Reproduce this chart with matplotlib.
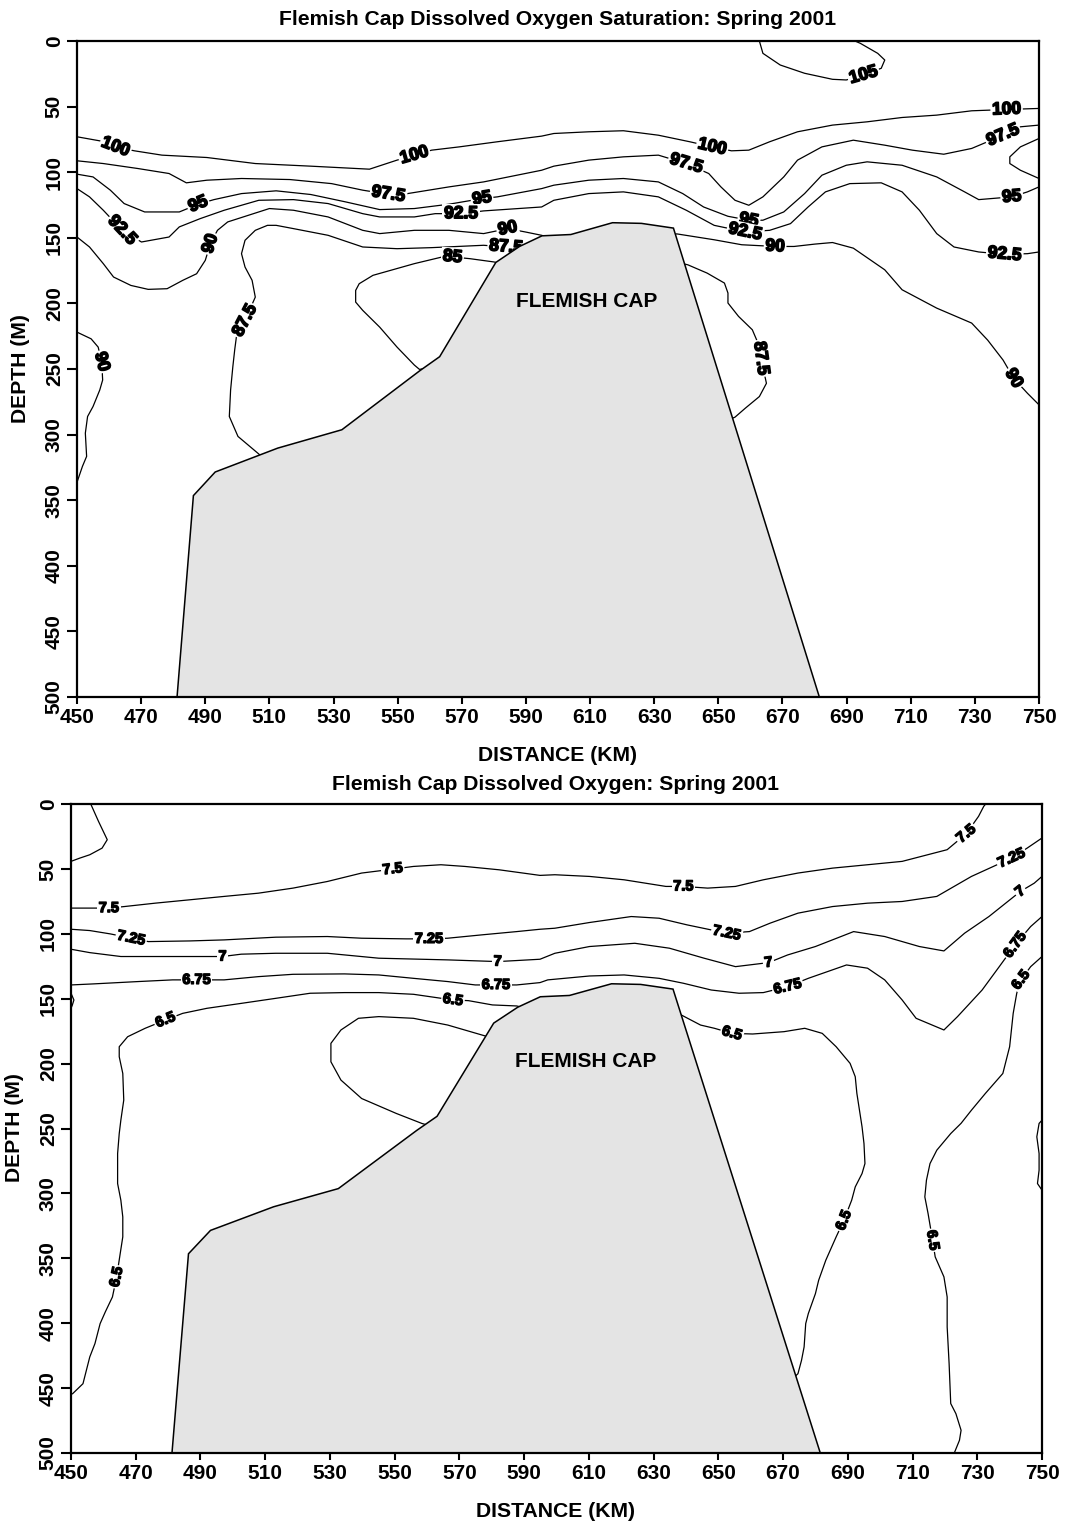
import numpy as np
import matplotlib
matplotlib.use('Agg')
import matplotlib.pyplot as plt
import matplotlib.patheffects as pe

plt.rcParams['font.family'] = ['Liberation Sans', 'DejaVu Sans']
plt.rcParams['font.weight'] = 'bold'

# --- Bathymetry (Flemish Cap), distance km / depth m ---
bathy_km = [481.2, 486.3, 493.1, 512.6, 532.6, 556.8, 563.1, 580.6, 588.0, 595.0, 604.0, 617.0, 626.0, 636.0, 681.5]
bathy_m = [500, 346.5, 328.5, 310.3, 296.3, 251.5, 240.6, 168.8, 156.6, 148.5, 147.5, 138.5, 139.0, 142.6, 500]

# --- Oxygen saturation isolines (%) ---
sat_105_km = [662.8, 663.9, 669.3, 676.9, 685.6, 689.9, 695.3, 700.8, 701.9, 699.7, 694.3, 692.6]
sat_105_m = [0, 9.4, 18.3, 24.6, 29.2, 29.7, 25.9, 20.8, 14.5, 9.4, 1.8, 0]

sat_100_km = [450, 457.1, 462.0, 467.9, 476.5, 490.5, 505.6, 522.9, 541.2, 549.8, 555.2, 560.6, 569.2, 581.1,
              594.9, 598.7, 609.6, 620.4, 631.3, 641.1, 648.1, 654.1, 659.5, 666.0, 674.7, 685.6, 696.4, 707.3,
              718.1, 729.0, 739.9, 750]
sat_100_m = [73.0, 76.1, 80.7, 83.7, 87.0, 88.8, 93.4, 95.4, 97.7, 90.8, 87.0, 83.2, 80.7, 76.8,
             72.5, 70.5, 69.2, 68.4, 71.8, 76.8, 80.7, 83.7, 83.2, 76.8, 69.2, 64.1, 61.6, 58.3,
             56.5, 53.2, 52.2, 51.4]

sat_975_km = [450, 458.2, 469.0, 478.7, 484.1, 490.5, 501.3, 516.4, 529.4, 539.1, 547.1, 553.1, 566.0, 576.8,
              594.9, 598.7, 609.6, 620.4, 631.3, 640.0, 647.0, 650.8, 655.2, 659.5, 663.9, 670.4, 674.7, 682.3,
              692.1, 701.9, 710.5, 720.3, 729.0, 738.8, 744.2, 750]
sat_975_m = [91.3, 93.4, 97.2, 101.0, 108.1, 106.1, 104.8, 105.6, 108.7, 113.7, 116.8, 116.3, 111.2, 107.4,
             98.5, 95.4, 90.8, 88.3, 87.0, 93.4, 101.0, 111.2, 121.4, 125.2, 118.8, 103.6, 90.8, 80.7,
             75.6, 79.4, 83.2, 86.3, 81.9, 71.8, 65.4, 64.1]

sat_975b_km = [750, 744.2, 740.9, 740.9, 744.2, 750]
sat_975b_m = [74.3, 80.7, 88.3, 93.4, 98.5, 104.8]

sat_95_km = [450, 455.0, 460.4, 464.7, 471.1, 481.9, 487.8, 492.7, 501.3, 512.1, 522.9, 533.7, 544.4, 555.2,
             566.0, 576.3, 581.1, 594.9, 598.7, 609.6, 620.4, 631.3, 638.9, 645.4, 653.0, 659.5, 663.9, 670.4,
             676.9, 682.3, 689.9, 696.4, 707.3, 718.1, 726.8, 731.2, 741.5, 746.4, 750]
sat_95_m = [101.5, 103.6, 113.7, 123.9, 130.3, 130.3, 124.4, 120.9, 116.3, 114.2, 117.0, 122.6, 128.5, 127.7,
            124.4, 120.1, 118.8, 112.5, 109.9, 106.1, 104.8, 107.4, 116.3, 126.5, 133.6, 136.6, 136.6, 130.3,
            116.3, 102.3, 94.7, 92.1, 94.7, 103.6, 115.0, 120.9, 118.8, 115.0, 111.2]

sat_925_km = [450, 453.9, 458.2, 464.1, 470.1, 478.7, 481.9, 488.4, 495.9, 506.7, 517.5, 528.3, 539.1, 544.4,
              555.2, 561.7, 569.8, 576.8, 594.9, 598.7, 609.6, 620.4, 631.3, 640.0, 648.7, 658.4, 666.0, 672.5,
              678.0, 683.4, 691.0, 700.8, 707.3, 712.7, 718.1, 723.5, 731.2, 739.3, 746.4, 750]
sat_925_m = [112.5, 118.8, 129.0, 144.3, 153.2, 149.4, 141.7, 135.4, 129.0, 121.4, 120.9, 123.9, 131.6, 134.1,
             134.1, 131.6, 131.6, 129.5, 126.5, 121.4, 116.3, 115.0, 118.8, 129.0, 140.5, 145.5, 144.3, 139.2,
             126.5, 115.0, 108.7, 108.1, 115.0, 129.0, 146.8, 157.0, 160.8, 162.6, 162.1, 160.8]

sat_90_km = [450, 453.9, 458.2, 461.4, 466.8, 472.2, 478.1, 483.0, 487.3, 490.0, 491.6, 493.8, 497.0, 503.5,
             510.0, 517.5, 528.3, 539.1, 544.4, 555.2, 566.0, 576.8, 584.3, 589.7, 594.9, 600, 615, 630, 637,
             648.7, 657.3, 667.7, 673.6, 680.1, 685.6, 692.1, 701.9, 707.3, 718.1, 729.0, 734.0, 738.8, 742.1,
             746.4, 750]
sat_90_m = [149.4, 157.0, 169.7, 179.9, 186.3, 189.3, 188.8, 182.4, 177.4, 167.2, 154.5, 144.3, 137.9, 132.8,
            127.7, 129.0, 134.1, 144.3, 146.8, 144.3, 144.3, 146.8, 143.0, 145.5, 148.1, 152, 152, 152, 147,
            151.5, 155.3, 156.6, 156.6, 154.8, 153.6, 157.9, 174.4, 189.6, 203.6, 215.0, 228.0, 243.2, 257.1,
            268.5, 277.3]

sat_90b_km = [450, 454.4, 456.6, 457.7, 458.0, 457.1, 455.0, 453.3, 452.6, 453.0, 451.7, 450.1]
sat_90b_m = [221.9, 227.0, 233.3, 244.4, 258.4, 266.0, 278.6, 286.2, 298.9, 316.6, 324.2, 335.6]

sat_875_km = [508, 506.7, 500.2, 497.5, 497.9, 498.6, 499.2, 499.7, 502.4, 505.6, 504.6, 502.4, 501.3, 502.4,
              505.6, 509.4, 512.1, 517.5, 528.3, 539.1, 549.8, 560.6, 576.8, 583.8, 587.6, 592]
sat_875_m = [318, 314.8, 301.4, 286.2, 266.0, 248.2, 235, 225.7, 213.0, 195.2, 182.4, 172.3, 162.1, 151.9,
             144.3, 140.5, 140.5, 143.0, 148.1, 157.0, 158.3, 157.5, 155.7, 157.0, 160.8, 163]

sat_875b_km = [636, 640.5, 646.5, 651.9, 653.0, 653.0, 656.3, 660.6, 662.8, 663.3, 665.0, 662.8, 658.4, 655.2, 652]
sat_875b_m = [168, 170.6, 176.9, 184.5, 192.1, 199.7, 209.9, 220.1, 232.7, 241.9, 260.9, 271.0, 279.9, 286.7, 290]

sat_85_km = [583, 580.0, 572.5, 567.1, 563.9, 555.2, 542.3, 538.0, 536.9, 536.9, 539.1, 544.4, 549.8, 555.2,
             556.8, 560]
sat_85_m = [170, 168.4, 165.9, 164.6, 164.6, 169.7, 178.6, 185.0, 190.1, 199.0, 205.3, 218.1, 233.3, 247.0,
            250.3, 249]

sat_labels = [("100", 462.0, 80.7), ("100", 555.2, 87.0), ("100", 648.1, 80.7), ("100", 739.9, 52.2),
              ("97.5", 547.1, 116.8), ("97.5", 640.0, 93.4), ("97.5", 738.8, 71.8),
              ("95", 487.8, 124.4), ("95", 576.3, 120.1), ("95", 659.5, 136.6), ("95", 741.5, 118.8),
              ("92.5", 464.1, 144.3), ("92.5", 569.8, 131.6), ("92.5", 658.4, 145.5), ("92.5", 739.3, 162.6),
              ("90", 491.6, 154.5), ("90", 584.3, 143.0), ("90", 667.7, 156.6), ("90", 742.1, 257.1),
              ("90", 457.7, 244.4), ("87.5", 502.4, 213.0), ("87.5", 583.8, 157.0), ("87.5", 663.3, 241.9),
              ("85", 567.1, 164.6), ("105", 695.3, 25.9)]

# --- Dissolved oxygen isolines (ml/l) ---
oxy_75a_km = [456.1, 458.5, 461.2, 459.6, 455.8, 452.7, 450]
oxy_75a_m = [0, 13.4, 27.5, 34.0, 39.1, 41.7, 44.2]

oxy_75_km = [450, 461.7, 466.5, 476.0, 486.7, 497.3, 507.9, 518.6, 529.2, 539.8, 549.4, 555.8, 564.3, 571.7,
             582.3, 594.9, 599.5, 610.2, 620.9, 633.8, 639.2, 646.7, 655.3, 663.9, 674.6, 685.3, 696.1, 706.8,
             720.7, 726.6, 730.4, 732.0, 732.6]
oxy_75_m = [80.2, 80.2, 79.0, 76.4, 73.8, 71.2, 68.7, 64.8, 59.7, 53.2, 50.2, 48.1, 46.8, 48.1,
            50.7, 55.0, 54.5, 55.8, 58.4, 63.5, 63.5, 64.8, 63.5, 58.4, 53.2, 49.4, 46.8, 44.2,
            35.2, 22.9, 9.5, 1.8, 0]

oxy_725_km = [450, 455.8, 462.2, 468.6, 473.9, 486.7, 497.3, 513.3, 529.2, 539.8, 553.6, 560.6, 566.4, 577.0,
              587.7, 594.9, 599.5, 610.2, 623.1, 631.7, 640.3, 652.6, 659.6, 666.0, 674.6, 685.3, 696.1, 706.8,
              717.5, 728.2, 740.6, 745.4, 750]
oxy_725_m = [96.5, 97.5, 100.1, 103.4, 106.0, 105.5, 104.7, 102.6, 102.1, 103.4, 103.9, 103.9, 103.4, 100.8,
             98.3, 96.5, 95.7, 91.3, 86.7, 88.0, 93.1, 99.5, 98.3, 91.8, 84.1, 79.0, 76.4, 75.1,
             71.2, 55.8, 41.7, 34.0, 26.2]

oxy_7_km = [450, 455.8, 465.4, 492.0, 496.8, 502.6, 513.3, 529.2, 545.1, 566.4, 581.8, 587.7, 594.9, 599.5,
            610.2, 624.2, 634.9, 645.6, 655.3, 665.5, 671.4, 680.0, 691.8, 701.4, 712.1, 719.7, 726.1, 733.6,
            743.3, 747.6, 750]
oxy_7_m = [111.9, 114.5, 117.5, 117.5, 117.5, 115.7, 115.0, 115.0, 118.8, 120.1, 121.4, 120.6, 119.6, 115.0,
           109.8, 107.3, 111.1, 118.8, 125.3, 122.2, 116.3, 109.8, 98.3, 102.1, 109.8, 113.2, 99.5, 86.7,
           67.4, 61.0, 55.8]

oxy_675_km = [450, 456.9, 470.7, 481.4, 488.8, 497.3, 507.9, 518.6, 534.5, 545.1, 555.8, 566.4, 574.9, 581.3,
              587.7, 594.9, 597.3, 610.2, 620.9, 631.7, 639.2, 647.8, 656.4, 663.9, 671.4, 677.8, 689.6, 696.1,
              701.4, 706.8, 711.1, 719.7, 723.9, 731.5, 736.8, 741.7, 746.5, 750]
oxy_675_m = [139.4, 138.6, 136.8, 135.5, 135.5, 135.5, 133.0, 131.2, 130.9, 131.7, 134.3, 136.8, 139.4, 139.4,
             139.4, 137.6, 135.5, 132.5, 131.7, 134.3, 138.1, 143.3, 145.8, 145.3, 140.7, 134.3, 124.0, 126.5,
             135.5, 151.0, 165.1, 174.1, 163.8, 143.3, 125.3, 108.5, 94.4, 86.7]

oxy_65_km = [450, 450.5, 453.7, 455.8, 457.4, 459.0, 460.6, 462.8, 464.1, 465.2, 466.0, 466.0, 465.4, 464.4,
             464.4, 464.9, 465.4, 466.3, 466.0, 464.9, 464.9, 467.5, 472.9, 479.2, 484.5, 492.0, 502.6, 513.3,
             523.9, 534.5, 545.1, 555.8, 568.0, 572.8, 580.2, 587.7, 595]
oxy_65_m = [454.8, 454.3, 446.6, 426.0, 415.7, 400.3, 391.3, 379.8, 364.3, 346.4, 333.5, 318.1, 305.2, 292.4,
            269.3, 253.9, 243.6, 228.1, 207.6, 194.7, 187.0, 179.3, 172.8, 166.4, 161.3, 157.4, 153.6, 149.7,
            145.8, 145.3, 145.3, 146.6, 151.0, 151.5, 154.8, 155.6, 160]

oxy_65b_km = [632, 638.6, 644.5, 648.8, 654.2, 660.6, 670.3, 676.7, 682.1, 686.4, 690.7, 692.3, 692.8, 694.4,
              695.0, 695.3, 694.4, 692.3, 691.2, 688.8, 686.4, 683.2, 681.0, 680.0, 677.8, 677.0, 676.5, 675.7,
              674.6, 672]
oxy_65b_m = [160, 162.6, 170.3, 172.8, 176.7, 177.2, 175.4, 172.8, 176.7, 187.0, 199.8, 210.1, 222.9, 248.7,
             261.6, 277.0, 284.7, 295.0, 305.2, 320.7, 333.5, 351.5, 366.9, 377.2, 392.6, 400.3, 418.3, 428.6,
             438.9, 445]

oxy_65c_km = [581, 578.1, 566.4, 555.8, 545.1, 538.8, 533.4, 530.3, 530.3, 533.4, 539.8, 550.5, 558.4, 561]
oxy_65c_m = [182, 178.8, 170.3, 165.1, 163.8, 165.1, 174.1, 184.4, 198.6, 212.7, 226.9, 238.4, 246.1, 248]

oxy_65d_km = [750, 746.5, 743.5, 742.2, 741.1, 740.0, 737.9, 732.5, 728.2, 725.0, 721.8, 717.5, 715.4, 714.3,
              713.8, 714.8, 716.2, 717.0, 719.7, 720.7, 720.7, 721.3, 721.8, 723.4, 725.0, 724.5, 722.9]
oxy_65d_m = [117.5, 125.3, 135.5, 145.8, 161.3, 187.0, 207.6, 223.0, 235.9, 246.0, 253.9, 266.7, 277.0, 289.8,
             302.7, 315.5, 336.1, 348.9, 364.3, 379.8, 402.9, 431.1, 461.9, 469.7, 482.5, 490.2, 500]

oxy_65e_km = [750, 749.1, 748.4, 749.1, 749.1, 748.6, 750]
oxy_65e_m = [243.6, 246.1, 256.4, 269.3, 282.1, 292.4, 297.5]

oxy_65f_km = [450, 450.9, 450.4, 450]
oxy_65f_m = [145.8, 151.0, 155.0, 157.4]

oxy_labels = [("7.5", 461.7, 80.2), ("7.5", 549.4, 50.2), ("7.5", 639.2, 63.5), ("7.5", 726.6, 22.9),
              ("7.25", 468.6, 103.4), ("7.25", 560.6, 103.9), ("7.25", 652.6, 99.5), ("7.25", 740.6, 41.7),
              ("7", 496.8, 117.5), ("7", 581.8, 121.4), ("7", 665.5, 122.2), ("7", 743.3, 67.4),
              ("6.75", 488.8, 135.5), ("6.75", 581.3, 139.4), ("6.75", 671.4, 140.7), ("6.75", 741.7, 108.5),
              ("6.5", 479.2, 166.4), ("6.5", 568.0, 151.0), ("6.5", 654.2, 176.7), ("6.5", 464.1, 364.3),
              ("6.5", 688.8, 320.7), ("6.5", 716.2, 336.1), ("6.5", 743.5, 135.5)]

sat_lines = [(sat_105_km, sat_105_m), (sat_100_km, sat_100_m), (sat_975_km, sat_975_m),
             (sat_975b_km, sat_975b_m), (sat_95_km, sat_95_m), (sat_925_km, sat_925_m),
             (sat_90_km, sat_90_m), (sat_90b_km, sat_90b_m), (sat_875_km, sat_875_m),
             (sat_875b_km, sat_875b_m), (sat_85_km, sat_85_m)]
oxy_lines = [(oxy_75a_km, oxy_75a_m), (oxy_75_km, oxy_75_m), (oxy_725_km, oxy_725_m), (oxy_7_km, oxy_7_m),
             (oxy_675_km, oxy_675_m), (oxy_65_km, oxy_65_m), (oxy_65b_km, oxy_65b_m),
             (oxy_65c_km, oxy_65c_m), (oxy_65d_km, oxy_65d_m), (oxy_65e_km, oxy_65e_m),
             (oxy_65f_km, oxy_65f_m)]

W, H = 1065, 1524
fig = plt.figure(figsize=(W / 100, H / 100), dpi=100)


def px_axes(left, top, right, bottom):
    return fig.add_axes([left / W, 1 - bottom / H, (right - left) / W, (bottom - top) / H])


def label_angle(ax, lines, x, d):
    # direction of the nearest line segment, in screen space
    p = ax.transData.transform((x, d))
    best = None
    for xs, ds in lines:
        pts = ax.transData.transform(np.column_stack([xs, ds]))
        for a, b in zip(pts[:-1], pts[1:]):
            ab = b - a
            t = np.clip(np.dot(p - a, ab) / max(np.dot(ab, ab), 1e-9), 0, 1)
            dist = np.hypot(*(a + t * ab - p))
            if best is None or dist < best[0]:
                best = (dist, ab)
    ang = np.degrees(np.arctan2(best[1][1], best[1][0]))
    if ang > 90:
        ang -= 180
    if ang < -90:
        ang += 180
    return ang


def draw_section(ax, lines, labels, label_size, stroke):
    ax.set_xlim(450, 750)
    ax.set_ylim(500, 0)
    for xs, ds in lines:
        ax.plot(xs, ds, color='black', lw=0.9, zorder=2, solid_joinstyle='round')
    for text, x, d in labels:
        ang = label_angle(ax, lines, x, d)
        ax.text(x, d, text, fontsize=label_size, fontweight='bold', rotation=ang,
                rotation_mode='anchor', ha='center', va='center', zorder=3,
                bbox=dict(facecolor='white', edgecolor='none', pad=1.2),
                path_effects=[pe.withStroke(linewidth=stroke, foreground='black')])
    ax.fill(bathy_km, bathy_m, facecolor='#e4e4e4', edgecolor='black', lw=1.1, zorder=4)
    ax.text(609, 198.5, 'FLEMISH CAP', fontsize=15, fontweight='bold', ha='center', va='center', zorder=5)
    ax.set_xticks(np.arange(450, 751, 20))
    ax.set_yticks(np.arange(0, 501, 50))
    ax.tick_params(axis='x', length=5, width=1.5, pad=3, labelsize=15)
    ax.tick_params(axis='y', length=7.5, width=1.5, pad=2, labelsize=15, labelrotation=90)
    for lab in ax.get_yticklabels():
        lab.set_va('center')
    for sp in ax.spines.values():
        sp.set_linewidth(1.6)
        sp.set_zorder(6)


ax1 = px_axes(77, 41, 1039, 697)
draw_section(ax1, sat_lines, sat_labels, 12.5, 1.2)
ax2 = px_axes(71, 804, 1042, 1453)
draw_section(ax2, oxy_lines, oxy_labels, 10.5, 1.0)

fig.text(558 / W, 1 - 25 / H, 'Flemish Cap Dissolved Oxygen Saturation: Spring 2001',
         fontsize=15.2, fontweight='bold', ha='center', va='baseline')
fig.text(558 / W, 1 - 761 / H, 'DISTANCE (KM)', fontsize=15.2, fontweight='bold', ha='center', va='baseline')
fig.text(21 / W, 1 - 369 / H, 'DEPTH (M)', fontsize=15.2, fontweight='bold', rotation=90, ha='center', va='center')

fig.text(556 / W, 1 - 790 / H, 'Flemish Cap Dissolved Oxygen: Spring 2001',
         fontsize=15.2, fontweight='bold', ha='center', va='baseline')
fig.text(556 / W, 1 - 1517 / H, 'DISTANCE (KM)', fontsize=15.2, fontweight='bold', ha='center', va='baseline')
fig.text(15 / W, 1 - 1128 / H, 'DEPTH (M)', fontsize=15.2, fontweight='bold', rotation=90, ha='center', va='center')

fig.savefig('out.png', dpi=100)
